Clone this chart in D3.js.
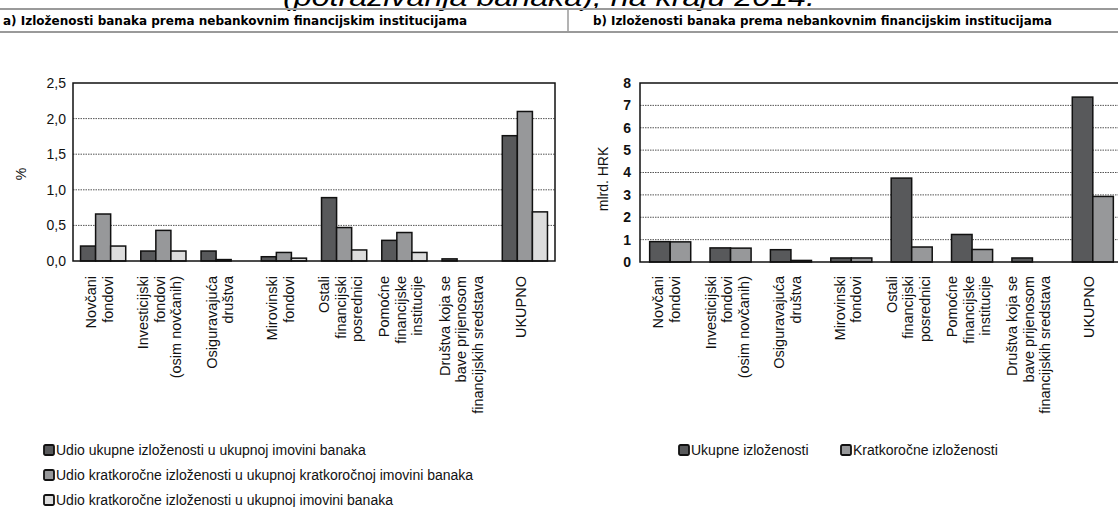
<!DOCTYPE html>
<html>
<head>
<meta charset="utf-8">
<script src="https://cdn.jsdelivr.net/npm/d3@7"></script>
<style>
    body { margin: 0; background: #fff; }
    svg { display: block; font-family: "Liberation Sans", Arial, sans-serif; }
</style>
</head>
<body>
<svg id="chart" width="1118" height="507"></svg>
<script>
// categories (multi-line labels, same for both panels)
var categories = [
    ["Novčani", "fondovi"],
    ["Investicijski", "fondovi", "(osim novčanih)"],
    ["Osiguravajuća", "društva"],
    ["Mirovinski", "fondovi"],
    ["Ostali", "financijski", "posrednici"],
    ["Pomoćne", "financijske", "institucije"],
    ["Društva koja se", "bave prijenosom", "financijskih sredstava"],
    ["UKUPNO"]
];

// panel a) - %
var shareTotalInAssets = [0.21, 0.14, 0.14, 0.06, 0.89, 0.29, 0.03, 1.76];
var shareShortInShortAssets = [0.66, 0.43, 0.02, 0.12, 0.47, 0.40, 0.0, 2.10];
var shareShortInAssets = [0.21, 0.14, 0.0, 0.04, 0.155, 0.12, 0.0, 0.69];
var ticksA = [0, 0.5, 1.0, 1.5, 2.0, 2.5];
var legendA = [
    "Udio ukupne izloženosti u ukupnoj imovini banaka",
    "Udio kratkoročne izloženosti u ukupnoj kratkoročnoj imovini banaka",
    "Udio kratkoročne izloženosti u ukupnoj imovini banaka"
];

// panel b) - mlrd. HRK
var totalExposure = [0.91, 0.63, 0.55, 0.18, 3.75, 1.23, 0.18, 7.37];
var shortExposure = [0.90, 0.62, 0.07, 0.18, 0.67, 0.56, 0.0, 2.93];
var ticksB = [0, 1, 2, 3, 4, 5, 6, 7, 8];
var legendB = ["Ukupne izloženosti", "Kratkoročne izloženosti"];

var colors = ["#58595b", "#97989a", "#dcdcdc"];

var svg = d3.select('#chart');

// clipped page title and header bar
svg.append('text')
    .attr('x', 283).attr('y', 6)
    .attr('textLength', 532).attr('lengthAdjust', 'spacingAndGlyphs')
    .style('font-size', '26px').style('font-style', 'italic')
    .text('(potraživanja banaka), na kraju 2014.');

svg.append('line').attr('x1', 0).attr('x2', 1118).attr('y1', 9).attr('y2', 9)
    .attr('stroke', '#9a9a9a').attr('stroke-width', 2);
svg.append('line').attr('x1', 0).attr('x2', 1118).attr('y1', 32).attr('y2', 32)
    .attr('stroke', '#9a9a9a').attr('stroke-width', 2);
svg.append('line').attr('x1', 568).attr('x2', 568).attr('y1', 9).attr('y2', 32)
    .attr('stroke', '#9a9a9a').attr('stroke-width', 1.5);

var headFont = '"DejaVu Sans Condensed", "Liberation Sans Narrow", sans-serif';
svg.append('text').attr('x', 3).attr('y', 25)
    .attr('textLength', 464).attr('lengthAdjust', 'spacingAndGlyphs')
    .style('font-family', headFont).style('font-weight', 'bold').style('font-size', '13px')
    .text('a)  Izloženosti banaka prema nebankovnim financijskim institucijama');
svg.append('text').attr('x', 593).attr('y', 25)
    .attr('textLength', 459).attr('lengthAdjust', 'spacingAndGlyphs')
    .style('font-family', headFont).style('font-weight', 'bold').style('font-size', '13px')
    .text('b)  Izloženosti banaka prema nebankovnim financijskim institucijama');


function drawPanel(cfg) {
    var g = svg.append('g');
    var xs = d3.scaleBand().domain(d3.range(categories.length))
        .range([cfg.left, cfg.right])
        .paddingInner(cfg.padInner).paddingOuter(cfg.padInner / 2);
    var xsub = d3.scaleBand().domain(d3.range(cfg.series.length))
        .range([0, xs.bandwidth()]);
    var ys = d3.scaleLinear().domain([0, cfg.ticks[cfg.ticks.length - 1]])
        .range([cfg.bottom, cfg.top]);

    // dotted gridlines
    g.selectAll('line.grid').data(cfg.ticks.slice(1, -1)).enter().append('line')
        .attr('class', 'grid')
        .attr('x1', cfg.left).attr('x2', cfg.right)
        .attr('y1', function (d) { return ys(d); })
        .attr('y2', function (d) { return ys(d); })
        .attr('stroke', '#555').attr('stroke-width', 1)
        .attr('stroke-dasharray', '1.5,1');

    // bars
    cfg.series.forEach(function (vals, s) {
        g.append('g').selectAll('rect').data(vals).enter().append('rect')
            .attr('x', function (d, i) { return xs(i) + xsub(s); })
            .attr('width', xsub.bandwidth())
            .attr('y', function (d) { return ys(d); })
            .attr('height', function (d) { return ys(0) - ys(d); })
            .attr('fill', colors[s])
            .attr('stroke', '#111').attr('stroke-width', 1.5)
            .attr('visibility', function (d) { return d > 0 ? 'visible' : 'hidden'; });
    });

    // frame
    g.append('rect')
        .attr('x', cfg.left).attr('y', cfg.top)
        .attr('width', cfg.right - cfg.left).attr('height', cfg.bottom - cfg.top)
        .attr('fill', 'none').attr('stroke', '#111').attr('stroke-width', 1.5);

    // y axis
    var yAxis = d3.axisLeft(ys).tickValues(cfg.ticks).tickSize(0).tickPadding(cfg.tickPad)
        .tickFormat(cfg.fmt);
    var ya = g.append('g').attr('transform', 'translate(' + cfg.left + ',0)').call(yAxis);
    ya.select('.domain').remove();
    ya.selectAll('text').style('font-size', '14px')
        .style('font-family', '"Liberation Sans", Arial, sans-serif')
        .style('font-weight', cfg.tickWeight).attr('fill', '#111');

    g.append('text')
        .attr('transform', 'translate(' + cfg.yLabelX + ',' + cfg.yLabelY + ') rotate(-90)')
        .attr('text-anchor', 'middle').attr('dy', '0.35em')
        .style('font-size', '14px').attr('fill', '#111')
        .text(cfg.yLabel);

    // category labels, rotated
    var labels = g.selectAll('g.cat').data(categories).enter().append('g')
        .attr('class', 'cat')
        .attr('transform', function (d, i) {
            return 'translate(' + (xs(i) + xs.bandwidth() / 2) + ',' + cfg.labelTop + ') rotate(-90)';
        });
    labels.each(function (lines) {
        var n = lines.length;
        d3.select(this).selectAll('text').data(lines).enter().append('text')
            .attr('x', 0)
            .attr('y', function (d, j) { return (j - (n - 1) / 2) * 16.5 + 1.5; })
            .attr('text-anchor', 'end')
            .style('font-size', '14.5px').attr('fill', '#111')
            .text(function (d) { return d; });
    });

    // legend
    var lg = g.selectAll('g.leg').data(cfg.legend).enter().append('g')
        .attr('class', 'leg')
        .attr('transform', function (d, i) {
            return 'translate(' + cfg.legendPos[i][0] + ',' + cfg.legendPos[i][1] + ')';
        });
    lg.append('rect')
        .attr('x', 0).attr('y', -5).attr('width', 10).attr('height', 10)
        .attr('rx', 1.5)
        .attr('fill', function (d, i) { return colors[i]; })
        .attr('stroke', '#111').attr('stroke-width', 1.8);
    lg.append('text')
        .attr('x', 12).attr('y', 0).attr('dy', '0.35em')
        .style('font-size', '14px').attr('fill', '#111')
        .text(function (d) { return d; });
}

var commaFmt = function (d) { return d3.format('.1f')(d).replace('.', ','); };

drawPanel({
    left: 73, right: 555, top: 83, bottom: 261,
    padInner: 0.25,
    series: [shareTotalInAssets, shareShortInShortAssets, shareShortInAssets],
    ticks: ticksA, fmt: commaFmt, tickPad: 7, tickWeight: 'normal',
    yLabel: '%', yLabelX: 21, yLabelY: 174,
    labelTop: 276,
    legend: legendA,
    legendPos: [[44, 450], [44, 475], [44, 500]]
});

drawPanel({
    left: 640, right: 1123, top: 83, bottom: 262,
    padInner: 0.32,
    series: [totalExposure, shortExposure],
    ticks: ticksB, fmt: d3.format('d'), tickPad: 9, tickWeight: 'bold',
    yLabel: 'mlrd. HRK', yLabelX: 603, yLabelY: 179,
    labelTop: 276,
    legend: legendB,
    legendPos: [[679, 450], [841, 450]]
});
</script>
</body>
</html>
